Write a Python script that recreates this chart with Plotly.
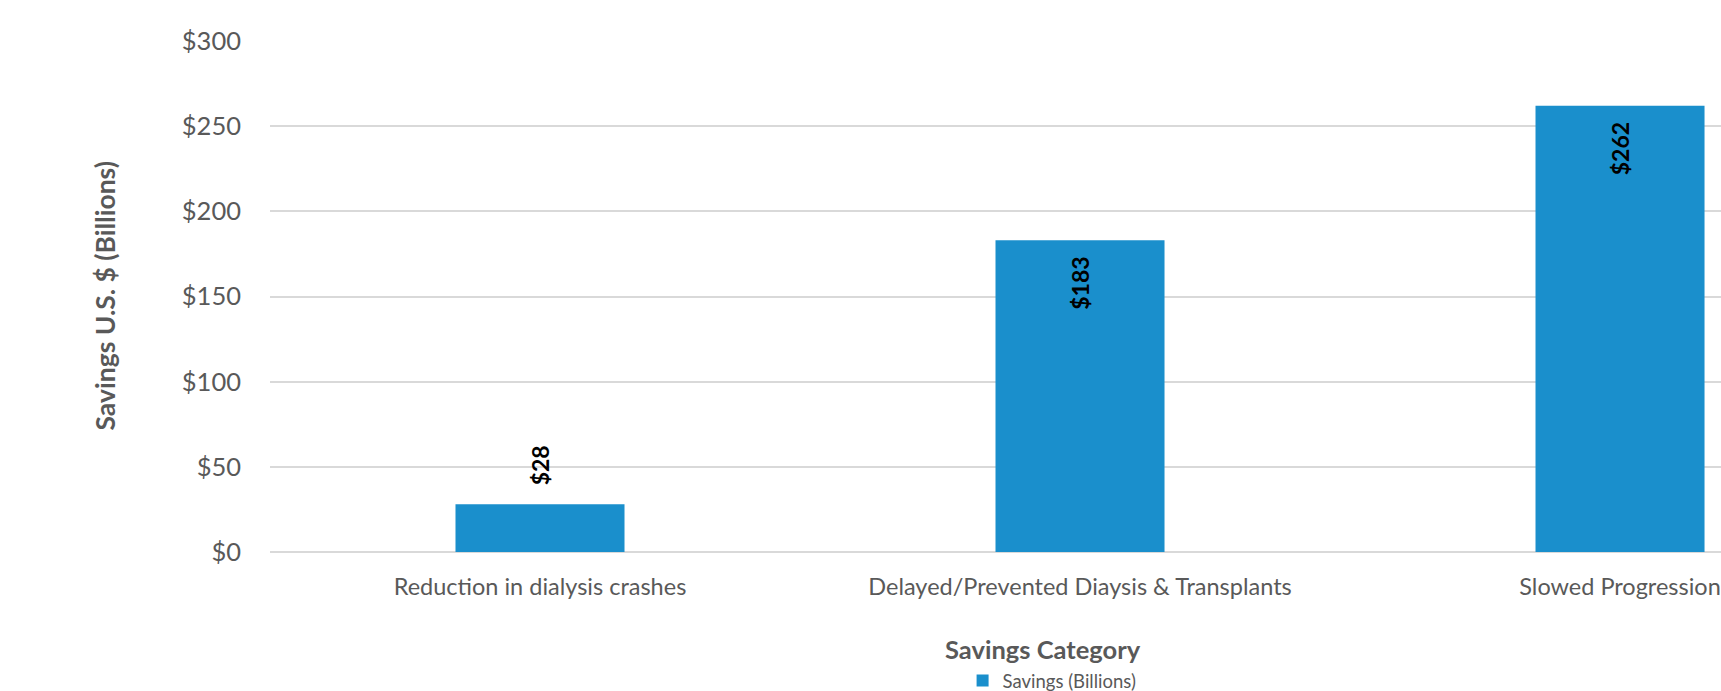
import plotly.graph_objects as go

categories = ["Reduction in dialysis crashes", "Delayed/Prevented Diaysis & Transplants", "Slowed Progression"]
savings = [28, 183, 262]
labels = ["$28", "$183", "$262"]
label_inside = [False, True, True]
series_name = "Savings (Billions)"
y_ticks = [0, 50, 100, 150, 200, 250, 300]
y_ticktext = ["$0", "$50", "$100", "$150", "$200", "$250", "$300"]

BAR = "#1A8FCC"
GREY = "#595959"
FONT = "Lato"

fig = go.Figure()
fig.add_trace(go.Bar(
    x=categories, y=savings, name=series_name, marker_color=BAR,
    marker_line_width=0, width=0.313, showlegend=True,
))

for cat, val, lab, inside in zip(categories, savings, labels, label_inside):
    fig.add_annotation(
        x=cat, y=val, text=lab, textangle=-90, showarrow=False,
        xref="x", yref="y",
        yanchor="top" if inside else "bottom",
        yshift=-15 if inside else 17,
        font=dict(family=FONT, size=23, color="#000000", weight="bold"),
    )

fig.add_annotation(
    text="Savings Category", x=0.533, y=-0.19, xref="paper", yref="paper",
    showarrow=False, xanchor="center", yanchor="middle",
    font=dict(family=FONT, size=25.5, color=GREY, weight="bold"),
)
fig.add_annotation(
    text="Savings U.S. $ (Billions)", x=-0.1144, y=0.5, xref="paper", yref="paper",
    showarrow=False, xanchor="center", yanchor="middle", textangle=-90,
    font=dict(family=FONT, size=26.5, color=GREY, weight="bold"),
)

fig.update_layout(
    width=1721, height=691,
    margin=dict(l=270, r=0, t=41, b=139, autoexpand=False),
    paper_bgcolor="white", plot_bgcolor="white",
    font=dict(family=FONT, color=GREY),
    showlegend=True,
    legend=dict(orientation="h", x=0.539, xanchor="center", yref="container", y=0.0145,
                yanchor="middle", font=dict(family=FONT, size=18.5, color=GREY), itemwidth=30),
    bargap=0.5,
)
fig.update_xaxes(
    type="category", range=[-0.5, 2.187], showgrid=False, showline=False,
    tickfont=dict(family=FONT, size=23.5, color=GREY), ticks="", ticklabelstandoff=18,
)
fig.update_yaxes(
    range=[0, 300], tickvals=y_ticks, ticktext=y_ticktext,
    showgrid=True, gridcolor="#D9D9D9", gridwidth=1.5,
    zeroline=True, zerolinecolor="#D9D9D9", zerolinewidth=1.5,
    showline=False, ticks="", ticklabelstandoff=28,
    tickfont=dict(family=FONT, size=25.5, color=GREY),
)

fig.write_html("out.html")
